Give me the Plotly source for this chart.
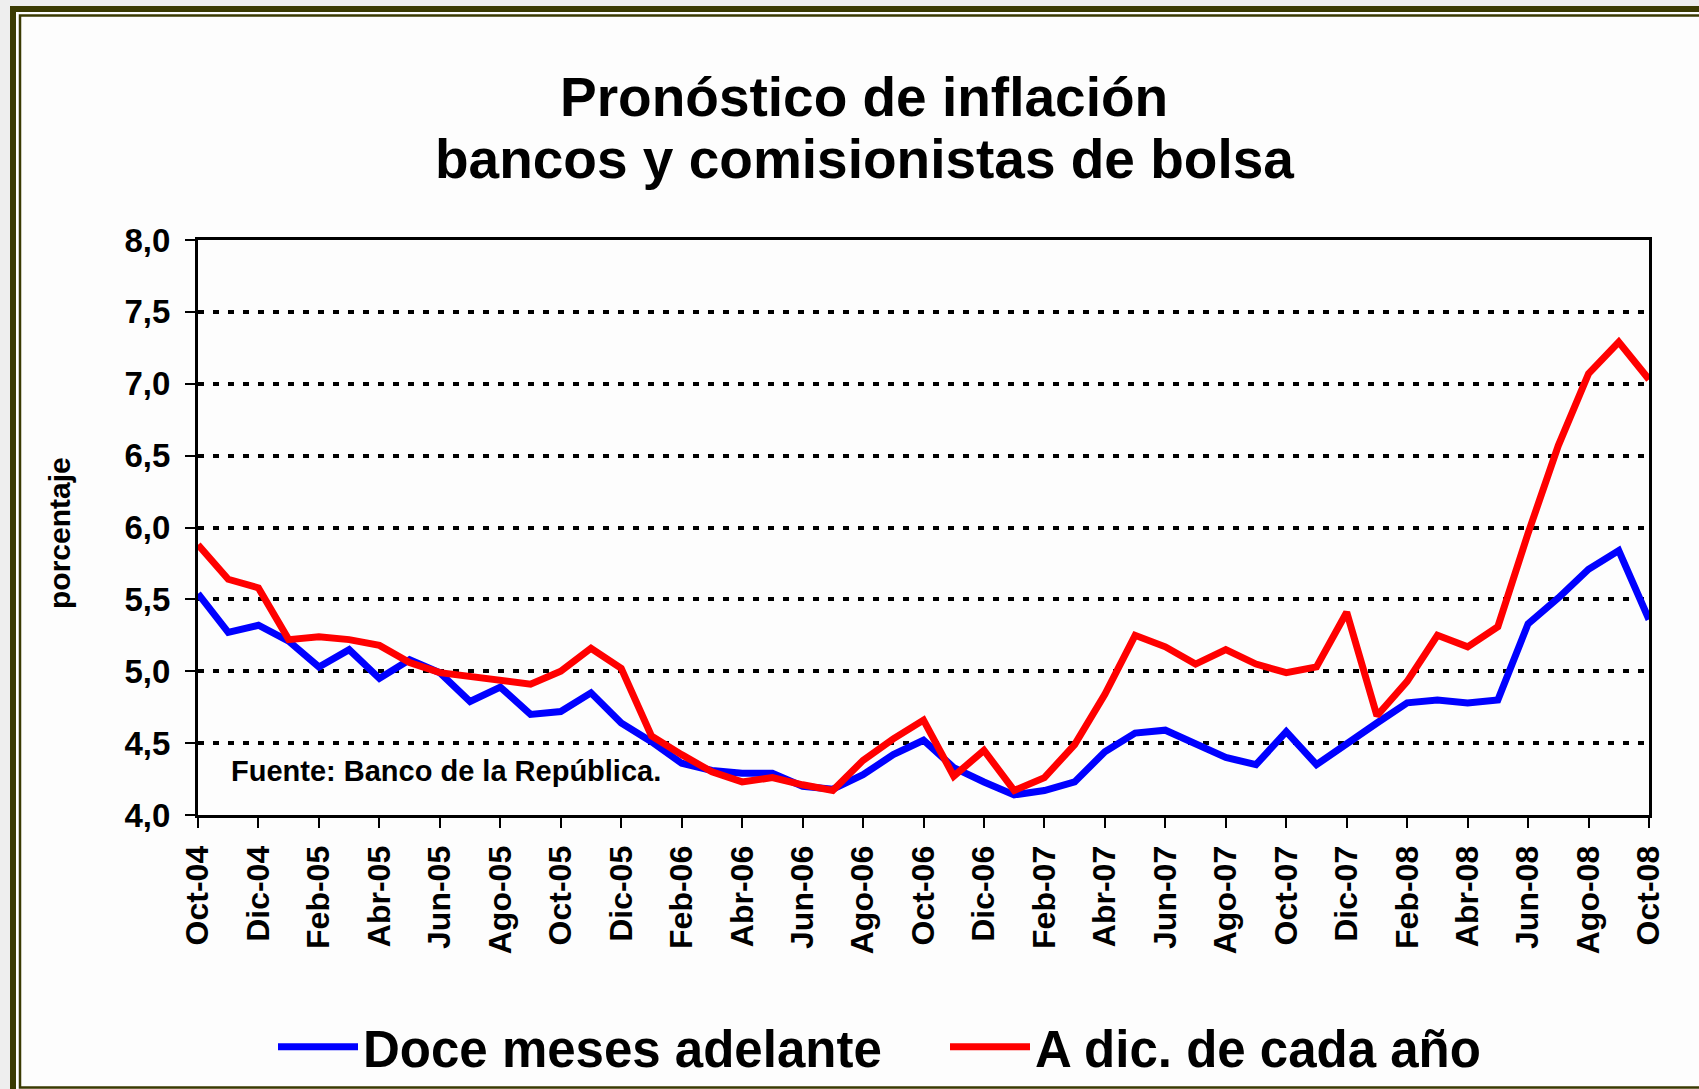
import plotly.graph_objects as go

# ---------------- data ----------------
months = [
    "Oct-04", "Nov-04", "Dic-04",
    "Ene-05", "Feb-05", "Mar-05", "Abr-05", "May-05", "Jun-05",
    "Jul-05", "Ago-05", "Sep-05", "Oct-05", "Nov-05", "Dic-05",
    "Ene-06", "Feb-06", "Mar-06", "Abr-06", "May-06", "Jun-06",
    "Jul-06", "Ago-06", "Sep-06", "Oct-06", "Nov-06", "Dic-06",
    "Ene-07", "Feb-07", "Mar-07", "Abr-07", "May-07", "Jun-07",
    "Jul-07", "Ago-07", "Sep-07", "Oct-07", "Nov-07", "Dic-07",
    "Ene-08", "Feb-08", "Mar-08", "Abr-08", "May-08", "Jun-08",
    "Jul-08", "Ago-08", "Sep-08", "Oct-08",
]

tick_labels = [
    "Oct-04", "Dic-04", "Feb-05", "Abr-05", "Jun-05", "Ago-05", "Oct-05",
    "Dic-05", "Feb-06", "Abr-06", "Jun-06", "Ago-06", "Oct-06", "Dic-06",
    "Feb-07", "Abr-07", "Jun-07", "Ago-07", "Oct-07", "Dic-07", "Feb-08",
    "Abr-08", "Jun-08", "Ago-08", "Oct-08",
]

doce_meses = [
    5.54, 5.27, 5.32, 5.21, 5.03, 5.15, 4.95, 5.08, 4.99, 4.79,
    4.89, 4.70, 4.72, 4.85, 4.64, 4.51, 4.36, 4.31, 4.29, 4.29,
    4.20, 4.18, 4.28, 4.42, 4.52, 4.33, 4.23, 4.14, 4.17, 4.23,
    4.44, 4.57, 4.59, 4.50, 4.40, 4.35, 4.58, 4.35, 4.50, 4.64,
    4.78, 4.80, 4.78, 4.80, 5.33, 5.51, 5.71, 5.84, 5.36,
]

a_dic = [
    5.88, 5.64, 5.58, 5.22, 5.24, 5.22, 5.18, 5.06, 4.99, 4.96,
    4.94, 4.91, 5.00, 5.16, 5.02, 4.55, 4.42, 4.30, 4.23, 4.26,
    4.21, 4.17, 4.38, 4.53, 4.66, 4.27, 4.45, 4.17, 4.26, 4.49,
    4.84, 5.25, 5.17, 5.05, 5.15, 5.05, 4.99, 5.03, 5.41, 4.69,
    4.93, 5.25, 5.17, 5.31, 5.96, 6.57, 7.07, 7.29, 7.03,
]

series_names = ["Doce meses adelante", "A dic. de cada año"]
title_lines = ["Pronóstico de inflación", "bancos y comisionistas de bolsa"]
source_note = "Fuente: Banco de la República."
y_title = "porcentaje"

# ---------------- layout geometry ----------------
W, H = 1699, 1089
L, R, T, B = 198, 50, 240, 274
PW, PH = W - L - R, H - T - B
FONT = "Liberation Sans, Arial, sans-serif"
FRAME = "#3a3a02"


def px(x):
    return (x - L) / PW


def py(y):
    return (H - B - y) / PH


fig = go.Figure()
fig.add_trace(go.Scatter(
    x=months, y=doce_meses, mode="lines", name=series_names[0],
    line=dict(color="#0000ff", width=7),
))
fig.add_trace(go.Scatter(
    x=months, y=a_dic, mode="lines", name=series_names[1],
    line=dict(color="#ff0000", width=7),
))

shapes = [
    # light area outside the slide frame
    dict(type="rect", xref="paper", yref="paper", x0=px(0), x1=px(10), y0=py(0), y1=py(H),
         fillcolor="#eeeeee", line=dict(width=0), layer="below"),
    dict(type="rect", xref="paper", yref="paper", x0=px(0), x1=px(W), y0=py(0), y1=py(6),
         fillcolor="#eeeeee", line=dict(width=0), layer="below"),
    # slide frame
    dict(type="rect", xref="paper", yref="paper", x0=px(13), x1=px(W + 40), y0=py(9), y1=py(H + 40),
         line=dict(color=FRAME, width=6), layer="below"),
    dict(type="rect", xref="paper", yref="paper", x0=px(20), x1=px(W + 40), y0=py(15.5), y1=py(1087.5),
         line=dict(color=FRAME, width=2.5), layer="below"),
]

annotations = [
    dict(text=f"<b>{title_lines[0]}</b>", xref="paper", yref="paper", x=px(864), y=py(97),
         xanchor="center", yanchor="middle", showarrow=False,
         font=dict(family=FONT, size=55, color="black")),
    dict(text=f"<b>{title_lines[1]}</b>", xref="paper", yref="paper", x=px(864), y=py(159),
         xanchor="center", yanchor="middle", showarrow=False,
         font=dict(family=FONT, size=55, color="black")),
    dict(text=f"<b>{source_note}</b>", xref="paper", yref="paper", x=px(229), y=py(771),
         xanchor="left", yanchor="middle", showarrow=False,
         font=dict(family=FONT, size=29, color="black")),
    dict(text=f"<b>{y_title}</b>", xref="paper", yref="paper", x=px(59), y=py(533),
         xanchor="center", yanchor="middle", showarrow=False, textangle=-90,
         font=dict(family=FONT, size=30, color="black")),
]

fig.update_layout(
    width=W, height=H,
    margin=dict(l=L, r=R, t=T, b=B, pad=0, autoexpand=False),
    paper_bgcolor="#fdfdfd",
    plot_bgcolor="rgba(0,0,0,0)",
    separators=",.",
    shapes=shapes,
    annotations=annotations,
    showlegend=True,
    legend=dict(
        orientation="h", x=px(273), y=py(1047), xanchor="left", yanchor="middle",
        font=dict(family=FONT, size=51, color="black", weight="bold"),
        itemwidth=80, bgcolor="rgba(0,0,0,0)", borderwidth=0,
        entrywidth=577, entrywidthmode="pixels",
    ),
    font=dict(family=FONT, color="black"),
)

fig.update_xaxes(
    type="category", range=[0, len(months) - 1],
    tickmode="array", tickvals=tick_labels, ticktext=tick_labels,
    tickangle=-90, ticks="outside", ticklen=10, tickwidth=2, tickcolor="black",
    tickfont=dict(family=FONT, size=32, color="black", weight="bold"),
    showline=True, linewidth=3, linecolor="black", mirror=True,
    showgrid=False, zeroline=False, ticklabelstandoff=5, automargin=False,
)

fig.update_yaxes(
    range=[4, 8], tick0=4, dtick=0.5, tickformat=".1f",
    ticks="outside", ticklen=10, tickwidth=2, tickcolor="black",
    tickfont=dict(family=FONT, size=33, color="black", weight="bold"),
    showline=True, linewidth=3, linecolor="black", mirror=True,
    showgrid=True, gridcolor="black", gridwidth=3.5, griddash="6px,9px",
    zeroline=False, ticklabelstandoff=8, automargin=False,
)

fig.write_html(
    "out.html",
    config={"displayModeBar": False},
    post_script="document.body.style.margin='0';",
)
